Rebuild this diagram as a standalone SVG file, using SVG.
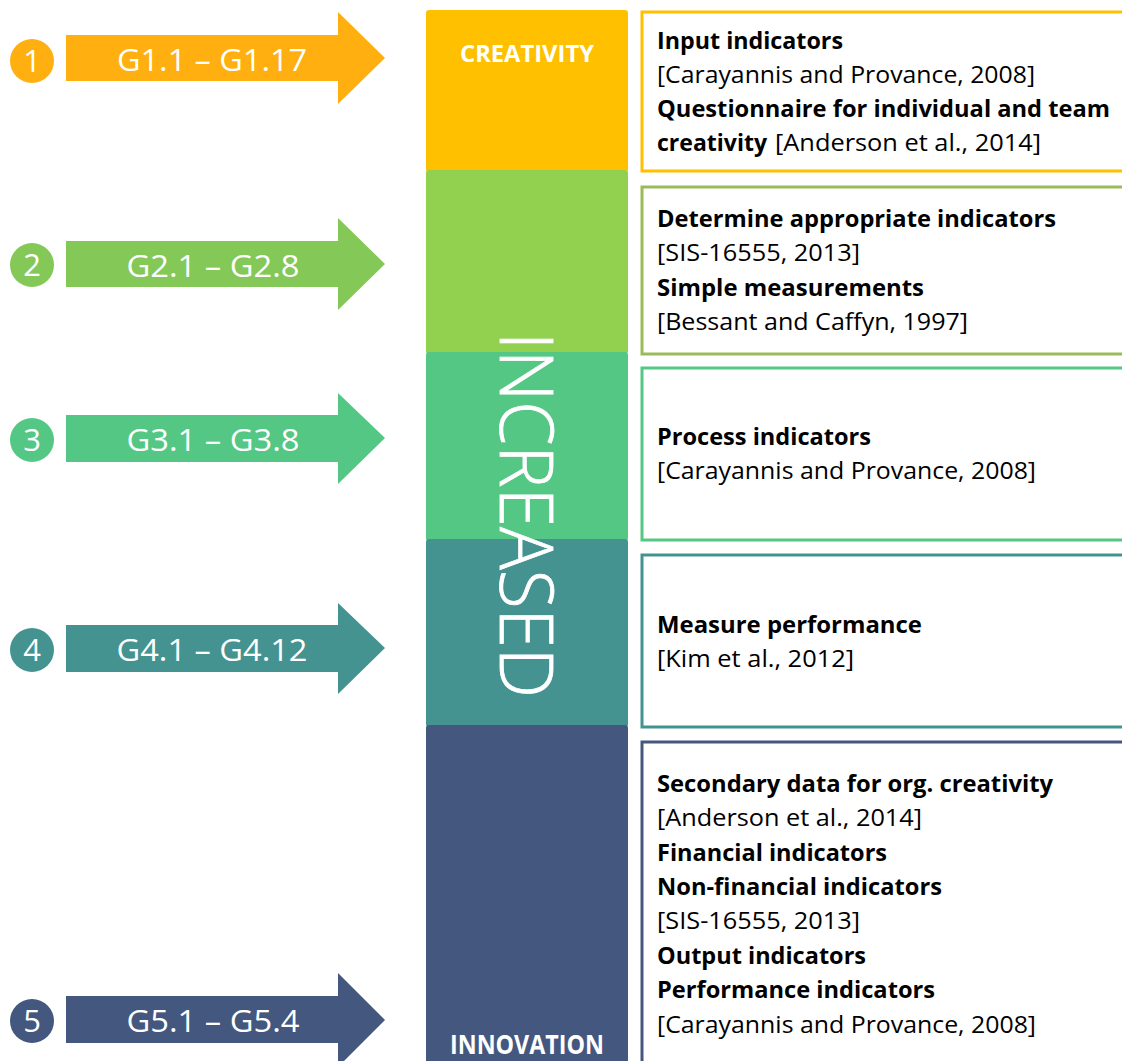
<svg xmlns="http://www.w3.org/2000/svg" width="1122" height="1061" viewBox="0 0 1122 1061">
  <style>
    .num { font-family: "Open Sans", "Liberation Sans", sans-serif; font-size: 31px; fill: #ffffff; text-anchor: middle; }
    .lbl { font-family: "Open Sans", "Liberation Sans", sans-serif; font-size: 31px; fill: #ffffff; text-anchor: middle; }
    .b { font-family: "Open Sans", "Liberation Sans", sans-serif; font-size: 23px; font-weight: bold; fill: #000000; }
    .r { font-family: "Open Sans", "Liberation Sans", sans-serif; font-size: 23px; fill: #000000; }
    .stage { font-family: "Open Sans", "Liberation Sans", sans-serif; font-weight: bold; fill: #ffffff; text-anchor: middle; }
    .box { fill: #ffffff; stroke-width: 3; }
  </style>

  <!-- central stage column -->
  <g id="column">
    <rect x="426" y="10" width="202" height="162" rx="3" fill="#FFC000"/>
    <rect x="426" y="170" width="202" height="184" rx="3" fill="#92D050"/>
    <rect x="426" y="352" width="202" height="189" rx="3" fill="#55C785"/>
    <rect x="426" y="539" width="202" height="188" rx="3" fill="#449391"/>
    <rect x="426" y="725" width="202" height="340" rx="3" fill="#44577E"/>
    <text class="stage" x="527" y="62" font-size="23" textLength="134" lengthAdjust="spacingAndGlyphs">CREATIVITY</text>
    <text x="0" y="0" transform="translate(500 332) rotate(90)" font-family="'Open Sans', 'Liberation Sans', sans-serif" font-size="73" font-weight="300" fill="#ffffff" stroke="#ffffff" stroke-width="0.8" textLength="366" lengthAdjust="spacingAndGlyphs">INCREASED</text>
    <text class="stage" x="527" y="1054" font-size="26" textLength="154" lengthAdjust="spacingAndGlyphs">INNOVATION</text>
  </g>

  <!-- numbered arrows -->
  <g id="connectors">
    <g id="arrow1">
      <circle cx="32" cy="61" r="22" fill="#FFAF0F"/>
      <text class="num" x="32" y="72">1</text>
      <path d="M66 35 H338 V12 L385 58 L338 104 V81 H66 Z" fill="#FFAF0F"/>
      <text class="lbl" x="212" y="71" textLength="190" lengthAdjust="spacingAndGlyphs">G1.1 – G1.17</text>
    </g>
    <g id="arrow2">
      <circle cx="32" cy="265" r="22" fill="#84C857"/>
      <text class="num" x="32" y="276">2</text>
      <path d="M66 241 H338 V218 L385 264 L338 310 V287 H66 Z" fill="#84C857"/>
      <text class="lbl" x="213" y="277" textLength="173" lengthAdjust="spacingAndGlyphs">G2.1 – G2.8</text>
    </g>
    <g id="arrow3">
      <circle cx="32" cy="440" r="22" fill="#55C785"/>
      <text class="num" x="32" y="451">3</text>
      <path d="M66 415 H338 V393 L385 438 L338 484 V462 H66 Z" fill="#55C785"/>
      <text class="lbl" x="213" y="451" textLength="173" lengthAdjust="spacingAndGlyphs">G3.1 – G3.8</text>
    </g>
    <g id="arrow4">
      <circle cx="32" cy="650" r="22" fill="#449391"/>
      <text class="num" x="32" y="661">4</text>
      <path d="M66 625 H338 V603 L385 648 L338 694 V672 H66 Z" fill="#449391"/>
      <text class="lbl" x="212" y="661" textLength="191" lengthAdjust="spacingAndGlyphs">G4.1 – G4.12</text>
    </g>
    <g id="arrow5">
      <circle cx="32" cy="1021" r="22" fill="#44577E"/>
      <text class="num" x="32" y="1032">5</text>
      <path d="M66 996 H338 V973 L385 1020 L338 1067 V1043 H66 Z" fill="#44577E"/>
      <text class="lbl" x="213" y="1032" textLength="173" lengthAdjust="spacingAndGlyphs">G5.1 – G5.4</text>
    </g>
  </g>

  <!-- method boxes -->
  <g id="box1">
    <rect class="box" x="642" y="12" width="500" height="159" stroke="#FFC000"/>
    <text class="b" x="657" y="49" textLength="186" lengthAdjust="spacingAndGlyphs">Input indicators</text>
    <text class="r" x="657" y="83" textLength="378" lengthAdjust="spacingAndGlyphs">[Carayannis and Provance, 2008]</text>
    <text class="b" x="657" y="117" textLength="453" lengthAdjust="spacingAndGlyphs">Questionnaire for individual and team</text>
    <text class="b" x="657" y="151" textLength="110" lengthAdjust="spacingAndGlyphs">creativity</text>
    <text class="r" x="775" y="151" textLength="266" lengthAdjust="spacingAndGlyphs">[Anderson et al., 2014]</text>
  </g>
  <g id="box2">
    <rect class="box" x="642" y="187" width="500" height="167" stroke="#9BBB59"/>
    <text class="b" x="657" y="227" textLength="399" lengthAdjust="spacingAndGlyphs">Determine appropriate indicators</text>
    <text class="r" x="657" y="261" textLength="203" lengthAdjust="spacingAndGlyphs">[SIS-16555, 2013]</text>
    <text class="b" x="657" y="296" textLength="267" lengthAdjust="spacingAndGlyphs">Simple measurements</text>
    <text class="r" x="657" y="330" textLength="311" lengthAdjust="spacingAndGlyphs">[Bessant and Caffyn, 1997]</text>
  </g>
  <g id="box3">
    <rect class="box" x="642" y="368" width="500" height="172" stroke="#55C785"/>
    <text class="b" x="657" y="445" textLength="214" lengthAdjust="spacingAndGlyphs">Process indicators</text>
    <text class="r" x="657" y="479" textLength="379" lengthAdjust="spacingAndGlyphs">[Carayannis and Provance, 2008]</text>
  </g>
  <g id="box4">
    <rect class="box" x="642" y="555" width="500" height="172" stroke="#449391"/>
    <text class="b" x="657" y="633" textLength="265" lengthAdjust="spacingAndGlyphs">Measure performance</text>
    <text class="r" x="657" y="667" textLength="197" lengthAdjust="spacingAndGlyphs">[Kim et al., 2012]</text>
  </g>
  <g id="box5">
    <rect class="box" x="642" y="742" width="500" height="340" stroke="#44577E"/>
    <text class="b" x="657" y="792" textLength="396" lengthAdjust="spacingAndGlyphs">Secondary data for org. creativity</text>
    <text class="r" x="657" y="826" textLength="265" lengthAdjust="spacingAndGlyphs">[Anderson et al., 2014]</text>
    <text class="b" x="657" y="861" textLength="230" lengthAdjust="spacingAndGlyphs">Financial indicators</text>
    <text class="b" x="657" y="895" textLength="285" lengthAdjust="spacingAndGlyphs">Non-financial indicators</text>
    <text class="r" x="657" y="929" textLength="203" lengthAdjust="spacingAndGlyphs">[SIS-16555, 2013]</text>
    <text class="b" x="657" y="964" textLength="209" lengthAdjust="spacingAndGlyphs">Output indicators</text>
    <text class="b" x="657" y="998" textLength="278" lengthAdjust="spacingAndGlyphs">Performance indicators</text>
    <text class="r" x="657" y="1033" textLength="379" lengthAdjust="spacingAndGlyphs">[Carayannis and Provance, 2008]</text>
  </g>
</svg>
